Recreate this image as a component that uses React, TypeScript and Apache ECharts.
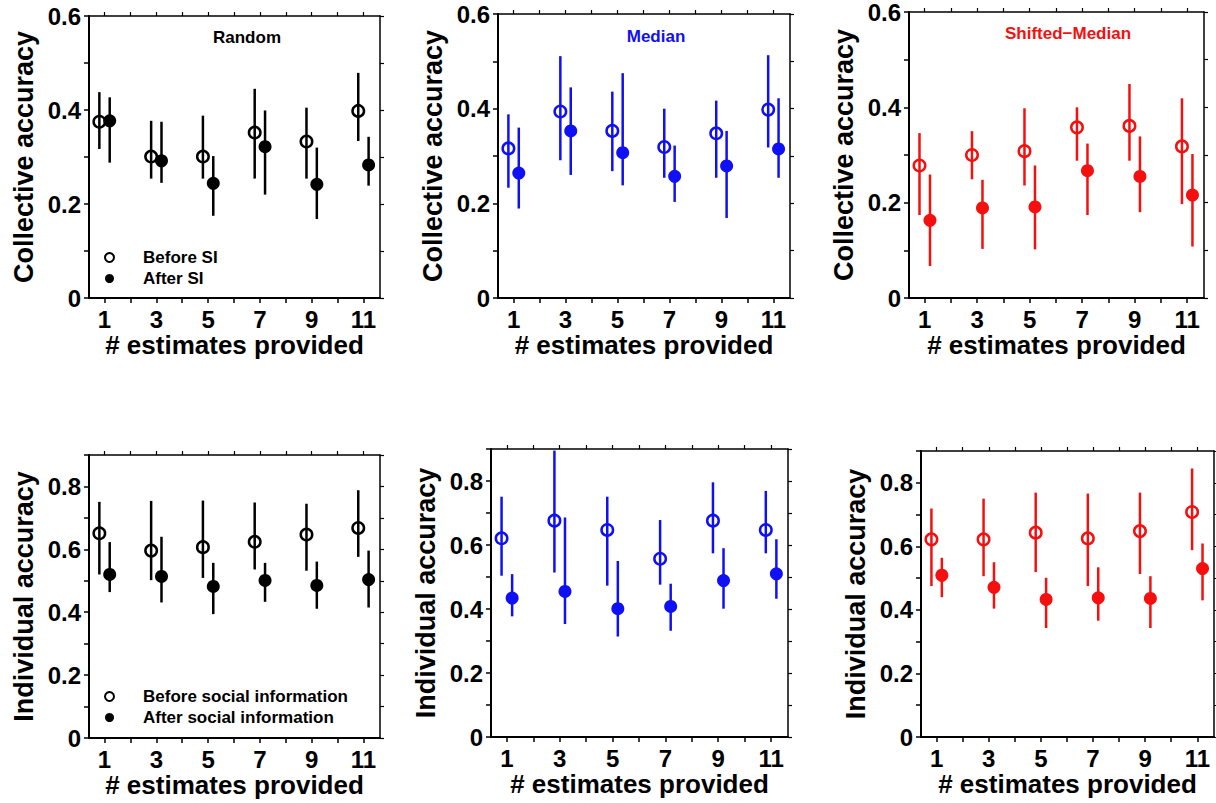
import React, { useEffect, useRef } from "react";
import * as echarts from "echarts";

// ---- data ----
const estimates = [1, 3, 5, 7, 9, 11];
const xTickValues = [1, 2, 3, 4, 5, 6, 7, 8, 9, 10, 11];
const xLabelValues = [1, 3, 5, 7, 9, 11];

// each entry: [mean, lower, upper]
const collRandomBefore = [[0.375, 0.317, 0.438], [0.301, 0.254, 0.377], [0.301, 0.254, 0.388], [0.352, 0.254, 0.445], [0.333, 0.254, 0.405], [0.398, 0.334, 0.479]];
const collRandomAfter = [[0.377, 0.288, 0.427], [0.292, 0.245, 0.375], [0.244, 0.175, 0.302], [0.322, 0.220, 0.399], [0.242, 0.168, 0.320], [0.283, 0.239, 0.343]];
const collMedianBefore = [[0.316, 0.233, 0.388], [0.394, 0.291, 0.511], [0.353, 0.268, 0.436], [0.319, 0.254, 0.400], [0.348, 0.254, 0.417], [0.398, 0.318, 0.513]];
const collMedianAfter = [[0.264, 0.189, 0.360], [0.353, 0.260, 0.445], [0.307, 0.238, 0.475], [0.257, 0.203, 0.322], [0.279, 0.169, 0.353], [0.315, 0.254, 0.422]];
const collShiftedBefore = [[0.278, 0.174, 0.346], [0.300, 0.249, 0.350], [0.308, 0.236, 0.398], [0.358, 0.288, 0.400], [0.361, 0.288, 0.449], [0.318, 0.197, 0.419]];
const collShiftedAfter = [[0.163, 0.067, 0.259], [0.189, 0.103, 0.248], [0.191, 0.102, 0.278], [0.267, 0.174, 0.324], [0.255, 0.180, 0.339], [0.216, 0.108, 0.302]];
const indRandomBefore = [[0.651, 0.520, 0.751], [0.596, 0.502, 0.754], [0.607, 0.509, 0.755], [0.624, 0.536, 0.749], [0.647, 0.532, 0.745], [0.668, 0.576, 0.788]];
const indRandomAfter = [[0.520, 0.464, 0.623], [0.514, 0.431, 0.640], [0.482, 0.394, 0.557], [0.501, 0.433, 0.557], [0.485, 0.411, 0.561], [0.504, 0.415, 0.596]];
const indMedianBefore = [[0.621, 0.504, 0.751], [0.676, 0.514, 0.895], [0.647, 0.473, 0.751], [0.557, 0.476, 0.678], [0.676, 0.574, 0.796], [0.647, 0.574, 0.769]];
const indMedianAfter = [[0.434, 0.377, 0.509], [0.455, 0.353, 0.686], [0.401, 0.314, 0.550], [0.408, 0.332, 0.479], [0.489, 0.401, 0.590], [0.510, 0.432, 0.618]];
const indShiftedBefore = [[0.622, 0.475, 0.719], [0.622, 0.506, 0.750], [0.643, 0.519, 0.769], [0.625, 0.475, 0.766], [0.648, 0.513, 0.769], [0.708, 0.588, 0.845]];
const indShiftedAfter = [[0.509, 0.440, 0.564], [0.471, 0.404, 0.550], [0.433, 0.343, 0.501], [0.438, 0.366, 0.534], [0.436, 0.343, 0.506], [0.530, 0.430, 0.609]];

const conditionTitles = ["Random", "Median", "Shifted\u2212Median"];

// ---- styling / layout ----
const FONT = '"Liberation Sans", Arial, Helvetica, sans-serif';
const BLACK = "#000000";
const BLUE = "#1010f5";
const RED = "#f51010";
const OFFSET = 0.2;
const TICK_FONT = 24;

const panels = [
  { grid: { left: 89, top: 16, width: 291, height: 282 }, yMax: 0.6, yName: "Collective accuracy", color: BLACK, before: collRandomBefore, after: collRandomAfter, bName: "Before SI", aName: "After SI", title: 0, titlePos: [247, 37] },
  { grid: { left: 498, top: 14, width: 292, height: 284 }, yMax: 0.6, yName: "Collective accuracy", color: BLUE, before: collMedianBefore, after: collMedianAfter, bName: "Before SI (Median)", aName: "After SI (Median)", title: 1, titlePos: [656, 36] },
  { grid: { left: 909, top: 11, width: 295, height: 287 }, yMax: 0.6, yName: "Collective accuracy", color: RED, before: collShiftedBefore, after: collShiftedAfter, bName: "Before SI (Shifted)", aName: "After SI (Shifted)", title: 2, titlePos: [1068, 33] },
  { grid: { left: 89, top: 455, width: 291, height: 283 }, yMax: 0.9, yName: "Individual accuracy", color: BLACK, before: indRandomBefore, after: indRandomAfter, bName: "Before social information", aName: "After social information", title: -1, titlePos: [0, 0] },
  { grid: { left: 491, top: 449, width: 297, height: 288 }, yMax: 0.9, yName: "Individual accuracy", color: BLUE, before: indMedianBefore, after: indMedianAfter, bName: "Before social information (Median)", aName: "After social information (Median)", title: -1, titlePos: [0, 0] },
  { grid: { left: 921, top: 451, width: 293, height: 286 }, yMax: 0.9, yName: "Individual accuracy", color: RED, before: indShiftedBefore, after: indShiftedAfter, bName: "Before social information (Shifted)", aName: "After social information (Shifted)", title: -1, titlePos: [0, 0] },
];

const yLabelFmt = (v: number) => {
  const r = Math.round(v * 10);
  if (r % 2 !== 0) return "";
  return r === 0 ? "0" : (r / 10).toFixed(1);
};

function buildOption() {
  const grids: any[] = [];
  const xAxes: any[] = [];
  const yAxes: any[] = [];
  const series: any[] = [];
  const graphics: any[] = [];
  const n = panels.length;

  panels.forEach((p, i) => {
    grids.push({ ...p.grid, containLabel: false });
    xAxes[i] = {
      type: "value", gridIndex: i, min: 0.4, max: 11.64, position: "bottom",
      name: "# estimates provided", nameLocation: "middle", nameGap: 34,
      nameTextStyle: { fontSize: 26, lineHeight: 26, fontWeight: "bold", fontFamily: FONT, color: "#000" },
      splitLine: { show: false },
      axisLine: { show: true, onZero: false, lineStyle: { color: "#000", width: 2 } },
      axisTick: { show: true, inside: false, length: 5, customValues: xTickValues, lineStyle: { color: "#000", width: 1.5 } },
      axisLabel: { show: true, customValues: xLabelValues, margin: 11, fontSize: TICK_FONT, lineHeight: 20, fontWeight: "bold", fontFamily: FONT, color: "#000" },
    };
    xAxes[n + i] = {
      type: "value", gridIndex: i, min: 0.4, max: 11.64, position: "top",
      splitLine: { show: false },
      axisLine: { show: true, onZero: false, lineStyle: { color: "#000", width: 1.5 } },
      axisTick: { show: true, inside: false, length: 4, customValues: xTickValues, lineStyle: { color: "#000", width: 1.2 } },
      axisLabel: { show: false },
    };
    yAxes[i] = {
      type: "value", gridIndex: i, min: 0, max: p.yMax, interval: 0.1, position: "left",
      name: p.yName, nameLocation: "middle", nameGap: 52,
      nameTextStyle: { fontSize: 27, lineHeight: 27, fontWeight: "bold", fontFamily: FONT, color: "#000" },
      splitLine: { show: false },
      axisLine: { show: true, onZero: false, lineStyle: { color: "#000", width: 2 } },
      axisTick: { show: true, inside: false, length: 5, lineStyle: { color: "#000", width: 1.5 } },
      axisLabel: { show: true, margin: 8, formatter: yLabelFmt, fontSize: TICK_FONT, lineHeight: 20, fontWeight: "bold", fontFamily: FONT, color: "#000", showMaxLabel: true, showMinLabel: true },
    };
    yAxes[n + i] = {
      type: "value", gridIndex: i, min: 0, max: p.yMax, interval: 0.1, position: "right",
      splitLine: { show: false },
      axisLine: { show: true, onZero: false, lineStyle: { color: "#000", width: 1.5 } },
      axisTick: { show: true, inside: false, length: 4, lineStyle: { color: "#000", width: 1.2 } },
      axisLabel: { show: false },
    };

    const groups = [
      { name: p.bName, data: p.before, dx: -OFFSET, open: true },
      { name: p.aName, data: p.after, dx: OFFSET, open: false },
    ];
    groups.forEach((g) => {
      const color = p.color;
      series.push({
        type: "custom", name: g.name + " range", xAxisIndex: i, yAxisIndex: i, silent: true,
        data: g.data.map((d, k) => [estimates[k] + g.dx, d[1], d[2]]),
        encode: { x: 0, y: [1, 2] },
        renderItem: (_params: any, api: any) => {
          const x = api.value(0);
          const p1 = api.coord([x, api.value(1)]);
          const p2 = api.coord([x, api.value(2)]);
          return { type: "line", shape: { x1: p1[0], y1: p1[1], x2: p2[0], y2: p2[1] }, style: { stroke: color, lineWidth: 2.5 } };
        },
        z: 2,
      });
    });
    groups.forEach((g) => {
      series.push({
        type: "scatter", name: g.name, xAxisIndex: i, yAxisIndex: i, silent: true,
        symbol: "circle", symbolSize: g.open ? 11.5 : 13,
        itemStyle: g.open
          ? { color: "rgba(255,255,255,0)", borderColor: p.color, borderWidth: 2.5, opacity: 1 }
          : { color: p.color, borderWidth: 0, opacity: 1 },
        data: g.data.map((d, k) => [estimates[k] + g.dx, d[0]]),
        z: 3,
      });
    });

    if (p.title >= 0) {
      graphics.push({
        type: "text", x: p.titlePos[0], y: p.titlePos[1],
        style: {
          text: conditionTitles[p.title], fill: p.color, font: `bold 17px ${FONT}`,
          align: "center", verticalAlign: "middle", textAlign: "center", textVerticalAlign: "middle",
        },
      });
    }
  });

  const legendBase = {
    orient: "vertical", itemWidth: 9, itemHeight: 9, itemGap: 2, selectedMode: false,
    textStyle: { fontSize: 17, fontWeight: "bold", fontFamily: FONT, color: "#000", lineHeight: 19, padding: [0, 0, 0, 24] },
  };
  const legends = [
    {
      ...legendBase, left: 99, top: 243,
      data: [
        { name: panels[0].bName, icon: "circle", itemStyle: { color: "rgba(255,255,255,0)", borderColor: "#000", borderWidth: 2 } },
        { name: panels[0].aName, icon: "circle", itemStyle: { color: "#000", borderWidth: 0 } },
      ],
    },
    {
      ...legendBase, left: 99, top: 682,
      data: [
        { name: panels[3].bName, icon: "circle", itemStyle: { color: "rgba(255,255,255,0)", borderColor: "#000", borderWidth: 2 } },
        { name: panels[3].aName, icon: "circle", itemStyle: { color: "#000", borderWidth: 0 } },
      ],
    },
  ];

  return {
    animation: false,
    backgroundColor: "#ffffff",
    grid: grids,
    xAxis: xAxes,
    yAxis: yAxes,
    legend: legends,
    series,
    graphic: graphics,
  };
}

export default function App() {
  const ref = useRef<HTMLDivElement>(null);
  useEffect(() => {
    if (!ref.current) return;
    const chart = echarts.init(ref.current, undefined, { renderer: "svg" });
    chart.setOption(buildOption() as any);
    return () => chart.dispose();
  }, []);
  return <div ref={ref} style={{ position: "absolute", left: 0, top: 0, width: 1216, height: 803 }} />;
}
